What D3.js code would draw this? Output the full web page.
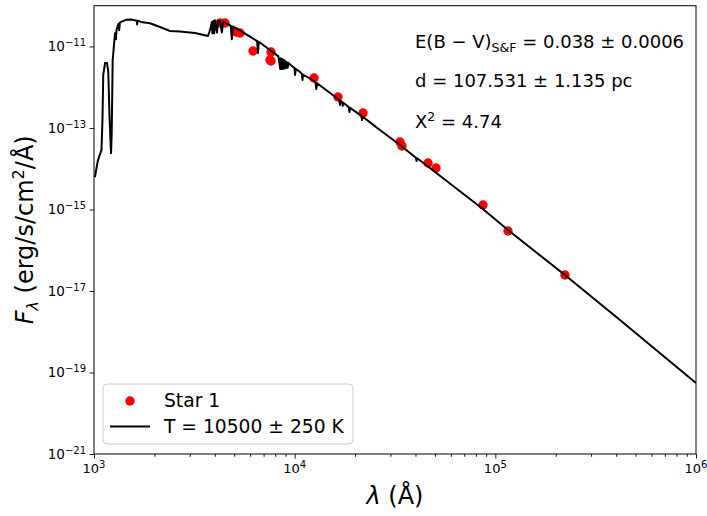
<!DOCTYPE html>
<html>
<head>
<meta charset="utf-8">
<script src="https://cdn.jsdelivr.net/npm/d3@7"></script>
<style>
  body { margin: 0; background: #fff; }
  svg { display: block; }
  text { font-family: "DejaVu Sans", sans-serif; fill: #000; }
</style>
</head>
<body>
<svg id="chart" width="707" height="516"></svg>
<script>
// photometry of Star 1 (wavelength in Å, flux in erg/s/cm2/Å)
const starWave = [4245, 4496, 5101, 5340, 6201, 7623, 7536, 7623, 12485, 16440,
  21900, 33480, 34260, 46180, 50630, 86800, 115700, 222400];
const starFlux = [3.76e-11, 3.76e-11, 2.26e-11, 2.14e-11, 7.73e-12, 7.31e-12, 4.65e-12, 4.40e-12, 1.68e-12, 5.75e-13,
  2.33e-13, 4.52e-14, 3.6e-14, 1.38e-14, 1.04e-14, 1.29e-15, 2.96e-16, 2.47e-17];

// model spectrum, T = 10500 K, [wavelength, flux]
const modelSpectrum = [
  [1011, 6.2e-15], [1029, 1.04e-14], [1047, 1.63e-14], [1090, 2.9e-14], [1102, 1.6e-13],
  [1112, 2.0e-12], [1135, 3.9e-12], [1161, 3.9e-12], [1178, 2.4e-12], [1194, 2.1e-13],
  [1208, 5.1e-14], [1216, 2.4e-14], [1225, 6.7e-14], [1239, 4.6e-12], [1258, 1.1e-11],
  [1273, 2.1e-11], [1287, 1.5e-11], [1295, 2.6e-11], [1302, 2.8e-11], [1325, 3.6e-11],
  [1335, 2.5e-11], [1345, 3.8e-11], [1364, 4.0e-11], [1443, 4.5e-11], [1528, 4.6e-11],
  [1630, 4.3e-11], [1640, 3.5e-11], [1650, 4.3e-11], [1714, 4.0e-11], [1901, 3.7e-11],
  [2133, 3.0e-11], [2393, 2.4e-11], [2685, 2.33e-11], [3187, 2.14e-11], [3698, 1.80e-11],
  [3785, 2.53e-11], [3872, 3.98e-11], [3889, 2.1e-11], [3930, 4.2e-11], [3970, 2.1e-11],
  [4010, 4.4e-11], [4102, 2.2e-11], [4150, 4.3e-11], [4248, 4.2e-11], [4340, 2.2e-11],
  [4400, 4.0e-11], [4800, 3.25e-11], [4861, 1.5e-11], [4920, 3.1e-11], [5348, 2.46e-11],
  [5990, 1.75e-11], [6500, 1.35e-11], [6563, 6.9e-12], [6620, 1.3e-11], [7538, 8.2e-12],
  [8300, 5.7e-12], [8467, 2.8e-12], [8520, 5.1e-12], [8598, 2.8e-12], [8660, 4.9e-12],
  [8750, 2.8e-12], [8800, 4.7e-12], [8863, 2.9e-12], [8920, 4.5e-12], [9015, 2.9e-12],
  [9100, 4.2e-12], [9229, 3.0e-12], [9300, 4.0e-12], [9485, 3.6e-12], [9980, 2.95e-12],
  [10049, 2.0e-12], [10120, 2.85e-12], [10640, 2.36e-12], [10880, 2.1e-12], [10938, 1.5e-12],
  [11000, 2.05e-12], [12490, 1.42e-12], [12700, 1.3e-12], [12818, 9.0e-13], [12940, 1.25e-12],
  [16450, 5.13e-13], [16700, 4.8e-13], [16811, 3.66e-13], [16950, 4.6e-13], [17250, 4.3e-13],
  [17362, 3.5e-13], [17480, 4.15e-13], [18600, 3.25e-13], [18751, 2.46e-13], [18900, 3.1e-13],
  [21500, 1.98e-13], [21655, 1.57e-13], [21800, 1.9e-13], [26600, 8.9e-14], [33500, 3.82e-14],
  [40200, 1.85e-14], [40512, 1.55e-14], [40800, 1.8e-14], [47200, 1.04e-14], [86700, 1.03e-15],
  [115600, 3.13e-16], [222200, 2.46e-17], [418000, 1.94e-18], [1000000, 5.5e-20]
];

const xTickExps = [3, 4, 5, 6];
const yTickExps = [-21, -19, -17, -15, -13, -11];
const legendLabels = ["Star 1", "T = 10500 ± 250 K"];

const svg = d3.select("#chart");
const margin = { top: 5.7, right: 11, bottom: 62, left: 94 };
const width = 707 - margin.left - margin.right,
  height = 516 - margin.top - margin.bottom;

const x = d3.scaleLog().domain([1e3, 1e6]).range([0, width]);
const y = d3.scaleLog().domain([1e-21, 1e-10]).range([height, 0]);

const g = svg.append("g").attr("transform", `translate(${margin.left},${margin.top})`);

g.append("defs").append("clipPath").attr("id", "clip")
  .append("rect").attr("width", width).attr("height", height);

// points
g.append("g").attr("clip-path", "url(#clip)")
  .selectAll("circle")
  .data(starWave.map((w, i) => [w, starFlux[i]]))
  .join("circle")
  .attr("cx", (d) => x(d[0]))
  .attr("cy", (d) => y(d[1]))
  .attr("r", 4.7)
  .attr("fill", "#ff0000");

// model line
const line = d3.line().x((d) => x(d[0])).y((d) => y(d[1]));
g.append("path")
  .attr("clip-path", "url(#clip)")
  .datum(modelSpectrum)
  .attr("d", line)
  .attr("fill", "none")
  .attr("stroke", "#000")
  .attr("stroke-width", 2)
  .attr("stroke-linejoin", "round");

// AXES
const minorX = [];
for (let e = 3; e < 6; e++) for (let m = 2; m <= 9; m++) minorX.push(m * Math.pow(10, e));

const xAxis = g.append("g").attr("transform", `translate(0,${height})`);
xAxis.call(d3.axisBottom(x).tickValues(minorX).tickSize(2.8).tickFormat(""));
xAxis.call((a) => a.select(".domain").remove());
const xMaj = g.append("g").attr("transform", `translate(0,${height})`)
  .call(d3.axisBottom(x).tickValues(xTickExps.map((e) => Math.pow(10, e))).tickSize(4.5).tickFormat(""));
xMaj.select(".domain").remove();

const yMaj = g.append("g")
  .call(d3.axisLeft(y).tickValues(yTickExps.map((e) => Math.pow(10, e))).tickSize(4.5).tickFormat(""));
yMaj.select(".domain").remove();

g.selectAll(".tick line").attr("stroke", "#000").attr("stroke-width", 0.9);

// frame
g.append("rect").attr("width", width).attr("height", height)
  .attr("fill", "none").attr("stroke", "#000").attr("stroke-width", 1);

// tick labels
const xt = g.append("g").selectAll("text").data(xTickExps).join("text")
  .attr("x", (e) => x(Math.pow(10, e)))
  .attr("y", height + 19)
  .attr("text-anchor", "middle")
  .style("font-size", "13px");
xt.append("tspan").text("10");
xt.append("tspan").attr("dy", -5).style("font-size", "10px").text((e) => String(e));

const yt = g.append("g").selectAll("text").data(yTickExps).join("text")
  .attr("x", -8)
  .attr("y", (e) => y(Math.pow(10, e)) + 5)
  .attr("text-anchor", "end")
  .style("font-size", "13.5px");
yt.append("tspan").text("10");
yt.append("tspan").attr("dy", -5).style("font-size", "10px").text((e) => "\u2212" + Math.abs(e));

// axis labels
const xl = svg.append("text")
  .attr("x", margin.left + width / 2)
  .attr("y", 504)
  .attr("text-anchor", "middle")
  .style("font-size", "24px");
xl.append("tspan").style("font-style", "italic").text("λ");
xl.append("tspan").text(" (Å)");

const yl = svg.append("text")
  .attr("transform", `translate(33,${margin.top + height / 2}) rotate(-90)`)
  .attr("text-anchor", "middle")
  .style("font-size", "24px");
yl.append("tspan").style("font-style", "italic").text("F");
yl.append("tspan").attr("dy", 5).style("font-size", "16px").style("font-style", "italic").text("λ");
yl.append("tspan").attr("dy", -5).text(" (erg/s/cm");
yl.append("tspan").attr("dy", -9).style("font-size", "16px").text("2");
yl.append("tspan").attr("dy", 9).text("/Å)");

// annotations
const ann = g.append("g").style("font-size", "18px");
const a1 = ann.append("text").attr("x", 415 - margin.left).attr("y", 48 - margin.top);
a1.append("tspan").text("E(B \u2212 V)");
a1.append("tspan").attr("dy", 4).style("font-size", "12.5px").text("S&F");
a1.append("tspan").attr("dy", -4).text(" = 0.038 ± 0.0006");
ann.append("text").attr("x", 415 - margin.left).attr("y", 87 - margin.top)
  .text("d = 107.531 ± 1.135 pc");
const a3 = ann.append("text").attr("x", 415 - margin.left).attr("y", 128 - margin.top);
a3.append("tspan").text("X");
a3.append("tspan").attr("dy", -7).style("font-size", "12.5px").text("2");
a3.append("tspan").attr("dy", 7).text(" = 4.74");

// LEGEND
const lg = svg.append("g").attr("transform", "translate(103,384)");
lg.append("rect").attr("width", 250).attr("height", 60).attr("rx", 4)
  .attr("fill", "#fff").attr("fill-opacity", 0.8)
  .attr("stroke", "#cccccc").attr("stroke-width", 1);
lg.append("circle").attr("cx", 27).attr("cy", 17).attr("r", 4.7).attr("fill", "#ff0000");
lg.append("line").attr("x1", 7).attr("x2", 47).attr("y1", 42.5).attr("y2", 42.5)
  .attr("stroke", "#000").attr("stroke-width", 2);
lg.selectAll("text.lab").data(legendLabels).join("text")
  .attr("class", "lab")
  .attr("x", 61)
  .attr("y", (d, i) => 23 + i * 26)
  .style("font-size", "18.7px")
  .text((d) => d);
</script>
</body>
</html>
